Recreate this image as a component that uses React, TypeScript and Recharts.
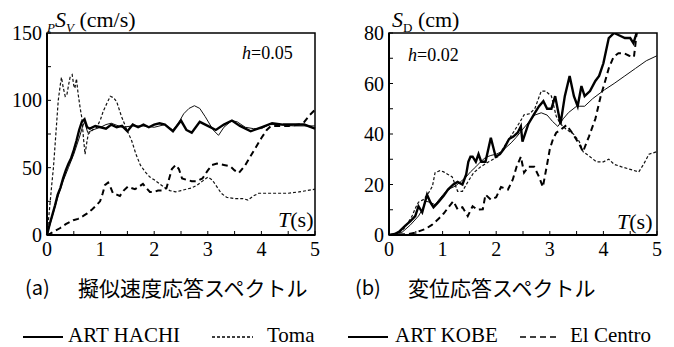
import React from 'react';
import { LineChart, Line, XAxis, YAxis, ReferenceArea } from 'recharts';

type Pt = [number, number];

// 擬似速度応答スペクトル pSv (cm/s), h = 0.05
const svHachi: Pt[] = [
  [0, 0], [0.1, 14], [0.2, 28], [0.3, 40], [0.4, 50], [0.5, 60], [0.6, 72], [0.66, 80], [0.7, 84], [0.76, 76],
  [0.85, 78], [1.0, 80], [1.1, 82], [1.2, 83], [1.4, 80], [1.6, 81], [1.8, 81], [2.0, 80], [2.2, 82], [2.35, 78],
  [2.45, 83], [2.55, 90], [2.65, 94], [2.75, 96], [2.85, 94], [2.95, 88], [3.1, 78], [3.2, 74], [3.3, 80], [3.45, 85],
  [3.55, 84], [3.7, 80], [3.85, 79], [4.0, 79], [4.15, 82], [4.3, 82], [4.6, 81], [5.0, 81],
];
const svKobe: Pt[] = [
  [0, 0], [0.05, 8], [0.1, 15], [0.15, 22], [0.2, 30], [0.25, 35], [0.3, 42], [0.35, 48], [0.4, 53], [0.45, 57],
  [0.5, 63], [0.55, 70], [0.6, 78], [0.65, 84], [0.7, 86], [0.75, 80], [0.8, 79], [0.9, 81], [1.0, 80], [1.1, 79],
  [1.2, 82], [1.3, 80], [1.4, 81], [1.5, 77], [1.6, 82], [1.7, 80], [1.8, 82], [1.9, 80], [2.0, 82], [2.1, 83],
  [2.2, 82], [2.35, 77], [2.5, 85], [2.6, 78], [2.7, 76], [2.85, 84], [3.0, 81], [3.15, 78], [3.3, 82], [3.45, 85],
  [3.6, 81], [3.8, 77], [4.0, 80], [4.2, 83], [4.4, 82], [4.6, 82], [4.8, 82], [5.0, 79],
];
const svToma: Pt[] = [
  [0, 0], [0.03, 12], [0.06, 25], [0.09, 38], [0.12, 50], [0.16, 72], [0.21, 100], [0.25, 112], [0.27, 117], [0.3, 110],
  [0.34, 103], [0.37, 104], [0.41, 113], [0.43, 117], [0.47, 119], [0.5, 111], [0.52, 109], [0.55, 116], [0.58, 105],
  [0.62, 94], [0.65, 87], [0.68, 72], [0.71, 60], [0.74, 68], [0.77, 75], [0.85, 78], [0.93, 80], [1.0, 86], [1.05, 92],
  [1.12, 98], [1.18, 103], [1.24, 102], [1.3, 99], [1.39, 88], [1.48, 79], [1.58, 70], [1.66, 60], [1.74, 52], [1.83, 47],
  [1.92, 43], [2.0, 41], [2.1, 38], [2.2, 35], [2.29, 33], [2.4, 32], [2.5, 33], [2.6, 34], [2.7, 35], [2.8, 37],
  [2.9, 40], [3.0, 43], [3.08, 41], [3.15, 37], [3.25, 31], [3.35, 28], [3.5, 27], [3.65, 27], [3.75, 26], [3.85, 29],
  [3.95, 31], [4.1, 31], [4.3, 31], [4.5, 31], [4.7, 32], [4.85, 33], [5.0, 34],
];
const svElCentro: Pt[] = [
  [0, 0], [0.06, 1], [0.15, 3], [0.24, 5], [0.35, 8], [0.49, 11], [0.58, 12], [0.67, 14], [0.75, 16], [0.84, 19],
  [0.92, 22], [0.99, 25], [1.04, 31], [1.08, 37], [1.14, 39], [1.19, 35], [1.23, 31], [1.3, 30], [1.36, 29], [1.43, 33],
  [1.51, 36], [1.57, 35], [1.64, 34], [1.72, 36], [1.79, 38], [1.85, 35], [1.92, 32], [2.0, 32], [2.07, 33], [2.15, 33],
  [2.23, 35], [2.28, 42], [2.33, 49], [2.4, 52], [2.46, 49], [2.52, 42], [2.6, 41], [2.7, 40], [2.8, 40], [2.9, 42],
  [3.0, 48], [3.08, 52], [3.17, 53], [3.3, 52], [3.42, 51], [3.5, 48], [3.58, 46], [3.7, 52], [3.85, 62], [4.0, 72],
  [4.1, 78], [4.18, 81], [4.3, 81], [4.5, 81], [4.7, 82], [4.8, 84], [4.9, 89], [5.0, 93],
];

// 変位応答スペクトル SD (cm), h = 0.02
const sdHachi: Pt[] = [
  [0, 0], [0.1, 0.3], [0.24, 1], [0.4, 4], [0.55, 7.5], [0.62, 10], [0.68, 13.4], [0.76, 13], [0.86, 12], [0.95, 14.5],
  [1.05, 17], [1.15, 18.5], [1.24, 19.4], [1.33, 21], [1.43, 22.8], [1.52, 25], [1.62, 27], [1.71, 29], [1.8, 30.7],
  [1.9, 31.5], [2.0, 32], [2.1, 33], [2.18, 34.6], [2.28, 36.5], [2.37, 38.6], [2.5, 42], [2.62, 45], [2.72, 47.5],
  [2.84, 48.4], [2.95, 47.5], [3.05, 45], [3.15, 43], [3.25, 46], [3.35, 48.5], [3.5, 51], [3.65, 51], [3.8, 54],
  [4.02, 57.5], [4.2, 60], [4.4, 63], [4.6, 66], [4.8, 69], [5.0, 71],
];
const sdKobe: Pt[] = [
  [0, 0], [0.11, 0.4], [0.2, 1.5], [0.3, 3.6], [0.4, 5.5], [0.49, 7.5], [0.55, 11.4], [0.62, 9], [0.71, 16], [0.77, 13],
  [0.83, 11], [0.92, 13], [1.02, 15.5], [1.1, 18], [1.2, 20], [1.28, 21], [1.37, 20], [1.44, 24], [1.48, 29], [1.52, 31],
  [1.56, 31], [1.62, 29], [1.67, 32], [1.72, 29], [1.8, 29], [1.9, 38.5], [1.99, 31], [2.07, 32], [2.14, 34], [2.24, 38],
  [2.32, 39], [2.4, 40.5], [2.46, 43], [2.49, 37], [2.6, 44], [2.71, 48], [2.8, 51], [2.88, 53], [2.95, 50], [3.03, 50],
  [3.1, 55], [3.2, 44], [3.28, 55], [3.37, 63], [3.45, 55], [3.52, 51], [3.59, 59], [3.65, 55], [3.75, 57], [3.85, 61],
  [3.92, 63], [4.0, 68], [4.1, 78], [4.2, 80], [4.3, 79], [4.4, 78], [4.5, 78], [4.56, 76], [4.62, 80],
];
const sdToma: Pt[] = [
  [0, 0], [0.2, 1], [0.3, 3], [0.43, 7.5], [0.5, 11], [0.55, 13], [0.64, 14], [0.72, 16], [0.81, 19.3], [0.86, 24.7],
  [0.95, 25.5], [1.02, 25], [1.1, 24], [1.18, 23], [1.28, 17.3], [1.37, 17.3], [1.47, 21], [1.58, 24.7], [1.71, 27],
  [1.86, 29], [2.03, 31], [2.18, 36], [2.33, 41], [2.45, 45], [2.52, 47.6], [2.62, 48], [2.72, 50], [2.84, 57],
  [2.92, 57], [3.03, 55], [3.12, 47], [3.2, 44], [3.3, 42], [3.44, 40], [3.55, 37], [3.62, 33], [3.75, 31], [3.87, 29],
  [4.0, 29], [4.1, 30], [4.2, 28], [4.34, 27], [4.5, 26], [4.66, 25], [4.75, 28], [4.85, 32], [5.0, 33],
];
const sdElCentro: Pt[] = [
  [0, 0], [0.36, 0.4], [0.5, 1], [0.68, 2.4], [0.8, 4], [0.92, 6.3], [1.02, 8.5], [1.11, 11], [1.2, 13.4], [1.28, 10.2],
  [1.37, 11], [1.47, 7.5], [1.56, 11.4], [1.65, 10], [1.75, 10.2], [1.8, 16], [1.9, 14], [2.0, 15], [2.09, 19],
  [2.22, 18], [2.31, 22], [2.38, 27], [2.46, 31], [2.52, 24.7], [2.6, 27], [2.71, 27], [2.8, 23], [2.87, 19], [2.95, 28],
  [3.0, 34], [3.06, 38], [3.12, 40.5], [3.22, 42], [3.31, 43.5], [3.4, 41], [3.46, 39], [3.55, 36], [3.62, 33],
  [3.73, 39], [3.85, 46], [3.95, 55], [4.02, 60], [4.1, 66], [4.19, 70.5], [4.28, 72], [4.38, 72], [4.48, 71],
  [4.57, 70.5], [4.6, 76], [4.62, 80],
];

const periodTicks = [0, 0.5, 1, 1.5, 2, 2.5, 3, 3.5, 4, 4.5, 5];
const svTicks = [0, 25, 50, 75, 100, 125, 150];
const sdTicks = [0, 10, 20, 30, 40, 50, 60, 70, 80];

const serif = "'Liberation Serif', 'DejaVu Serif', Tinos, 'Times New Roman', Times, serif";
const jp = "'Noto Sans CJK JP', 'Noto Sans', sans-serif";
const toRows = (pts: Pt[]) => pts.map(([t, v]) => ({ t, v }));

const thickSolid = { stroke: '#000', strokeWidth: 2.4 };
const thinSolid = { stroke: '#111', strokeWidth: 1 };
const tomaDash = { stroke: '#111', strokeWidth: 1.2, strokeDasharray: '3 2' };
const elCentroDash = { stroke: '#000', strokeWidth: 2, strokeDasharray: '6 4' };

function Spectrum({ hachi, kobe, toma, elCentro, yMax, yTicks, labelStep }: {
  hachi: Pt[]; kobe: Pt[]; toma: Pt[]; elCentro: Pt[]; yMax: number; yTicks: number[]; labelStep: number;
}) {
  const tick = { fontSize: 20, fill: '#000', style: { fontFamily: serif } };
  return (
    <LineChart width={332} height={260} margin={{ top: 33, right: 17, bottom: 0, left: 0 }}>
      <XAxis
        type="number" dataKey="t" domain={[0, 5]} ticks={periodTicks} height={25}
        tick={tick} tickSize={-4} tickMargin={11} axisLine={{ stroke: '#000', strokeWidth: 2 }}
        tickLine={{ stroke: '#000' }}
        tickFormatter={(v: number) => (Number.isInteger(v) ? String(v) : '')}
        allowDuplicatedCategory={false}
      />
      <YAxis
        type="number" domain={[0, yMax]} ticks={yTicks} width={47} allowDataOverflow
        tick={tick} tickSize={-4} tickMargin={9} axisLine={{ stroke: '#000', strokeWidth: 2 }}
        tickLine={{ stroke: '#000' }}
        tickFormatter={(v: number) => (v % labelStep === 0 ? String(v) : '')}
      />
      <ReferenceArea x1={0} x2={5} y1={0} y2={yMax} fill="none" stroke="#000" strokeWidth={1.5} />
      <Line data={toRows(toma)} dataKey="v" type="linear" dot={false} isAnimationActive={false} {...tomaDash} />
      <Line data={toRows(elCentro)} dataKey="v" type="linear" dot={false} isAnimationActive={false} {...elCentroDash} />
      <Line data={toRows(hachi)} dataKey="v" type="linear" dot={false} isAnimationActive={false} {...thinSolid} />
      <Line data={toRows(kobe)} dataKey="v" type="linear" dot={false} isAnimationActive={false} {...thickSolid} />
    </LineChart>
  );
}

const abs = (left: number, top: number, extra: React.CSSProperties = {}): React.CSSProperties => ({
  position: 'absolute', left, top, lineHeight: 1.1, whiteSpace: 'nowrap', fontFamily: serif, color: '#000', ...extra,
});

function LegendItem({ x, textX, label, dash, width }: { x: number; textX: number; label: string; dash?: string; width: number }) {
  return (
    <>
      <svg style={{ position: 'absolute', left: x, top: 330 }} width={width} height={14}>
        <line x1={0} y1={7} x2={width} y2={7} stroke="#000" strokeWidth={dash ? 1.4 : 2} strokeDasharray={dash} />
      </svg>
      <div style={abs(textX, 324, { fontSize: 21 })}>{label}</div>
    </>
  );
}

export default function App() {
  return (
    <div style={{ position: 'absolute', left: 0, top: 0, width: 674, height: 347, background: '#fff', overflow: 'hidden', fontFamily: serif }}>
      <div style={{ position: 'absolute', left: 0, top: 0 }}>
        <Spectrum hachi={svHachi} kobe={svKobe} toma={svToma} elCentro={svElCentro} yMax={150} yTicks={svTicks} labelStep={50} />
      </div>
      <div style={{ position: 'absolute', left: 342, top: 0 }}>
        <Spectrum hachi={sdHachi} kobe={sdKobe} toma={sdToma} elCentro={sdElCentro} yMax={80} yTicks={sdTicks} labelStep={20} />
      </div>

      <div style={abs(47, 8, { fontSize: 22 })}>
        <sub style={{ fontSize: 13, fontStyle: 'italic' }}>P</sub>
        <i>S</i><sub style={{ fontSize: 13, fontStyle: 'italic' }}>V</sub> (cm/s)
      </div>
      <div style={abs(392, 8, { fontSize: 22 })}>
        <i>S</i><sub style={{ fontSize: 13 }}>D</sub> (cm)
      </div>
      <div style={abs(242, 44, { fontSize: 18 })}><i>h</i>=0.05</div>
      <div style={abs(408, 46, { fontSize: 18 })}><i>h</i>=0.02</div>
      <div style={abs(278, 208, { fontSize: 22 })}><i>T</i>(s)</div>
      <div style={abs(617, 210, { fontSize: 22 })}><i>T</i>(s)</div>

      <div style={abs(25, 276, { fontSize: 20, fontFamily: jp })}>(a)</div>
      <div style={abs(78, 276, { fontSize: 21, fontFamily: jp })}>擬似速度応答スペクトル</div>
      <div style={abs(355, 276, { fontSize: 20, fontFamily: jp })}>(b)</div>
      <div style={abs(408, 276, { fontSize: 21, fontFamily: jp })}>変位応答スペクトル</div>

      <LegendItem x={23} width={40} textX={68} label="ART HACHI" />
      <LegendItem x={212} width={41} textX={267} label="Toma" dash="3 2" />
      <LegendItem x={348} width={40} textX={395} label="ART KOBE" />
      <LegendItem x={520} width={38} textX={570} label="El Centro" dash="6 4" />
    </div>
  );
}
